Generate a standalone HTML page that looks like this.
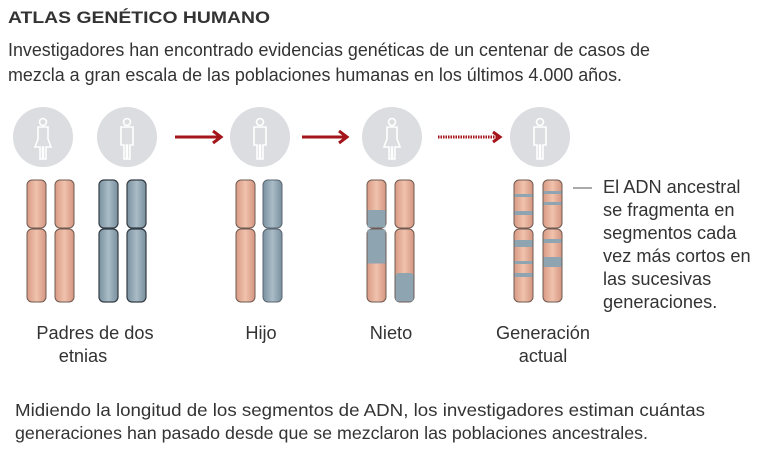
<!DOCTYPE html>
<html><head><meta charset="utf-8"><style>
body{margin:0;width:768px;height:455px;background:#fff;overflow:hidden;font-family:"Liberation Sans",Arial,sans-serif;color:#333}
svg{position:absolute;left:0;top:0}
</style></head><body>
<svg width="768" height="455" xmlns="http://www.w3.org/2000/svg" font-family="Liberation Sans, Arial, sans-serif">
<defs>
<linearGradient id="o" x1="0" x2="1"><stop offset="0" stop-color="#d99a84"/><stop offset=".5" stop-color="#f0c2ac"/><stop offset="1" stop-color="#d49580"/></linearGradient>
<linearGradient id="b" x1="0" x2="1"><stop offset="0" stop-color="#7a919f"/><stop offset=".5" stop-color="#a9bcc7"/><stop offset="1" stop-color="#788f9d"/></linearGradient>
<g id="man" fill="none" stroke="#fff" stroke-width="1.6"><circle cx="0" cy="-15" r="3.5"/><path d="M-6,-10 H6 V8 H3 V22 H0.5 V8 H-0.5 V22 H-3 V8 H-6 Z"/></g>
<g id="woman" fill="none" stroke="#fff" stroke-width="1.6"><circle cx="0" cy="-15" r="3.5"/><path d="M-5,-10 H5 V2 L8,10 H3 V22 H0.5 V10 H-0.5 V22 H-3 V10 H-8 L-5,2 Z"/></g>
</defs>
<text x="8" y="23" font-size="17" font-weight="bold" fill="#333" textLength="262" lengthAdjust="spacingAndGlyphs">ATLAS GENÉTICO HUMANO</text>
<text x="8" y="56" font-size="18" fill="#333" textLength="642" lengthAdjust="spacingAndGlyphs">Investigadores han encontrado evidencias genéticas de un centenar de casos de</text>
<text x="8" y="81" font-size="18" fill="#333" textLength="614" lengthAdjust="spacingAndGlyphs">mezcla a gran escala de las poblaciones humanas en los últimos 4.000 años.</text>
<g fill="#dcdde0">
<circle cx="43" cy="137" r="30"/><circle cx="127" cy="137" r="30"/><circle cx="260" cy="137" r="30"/><circle cx="392" cy="137" r="30"/><circle cx="540" cy="137" r="30"/></g>
<use href="#woman" x="43" y="137"/><use href="#man" x="127" y="137"/><use href="#man" x="260" y="137"/><use href="#woman" x="392" y="137"/><use href="#man" x="540" y="137"/>
<g stroke="#a3151a" stroke-width="3" fill="none">
<line x1="175" y1="137" x2="219" y2="137"/><path d="M213,131 L221,137 L213,143"/>
<line x1="302" y1="137" x2="345" y2="137"/><path d="M339,131 L347,137 L339,143"/>
<line x1="438" y1="137" x2="497" y2="137" stroke-dasharray="1.5,1"/><path d="M493,132 L500,137 L493,142"/>
</g>
<g stroke="#6e5a52" stroke-width="1">
<rect x="27" y="180" width="19" height="48" rx="5" fill="url(#o)"/><rect x="27" y="229" width="19" height="73" rx="5" fill="url(#o)"/>
<rect x="55" y="180" width="19" height="48" rx="5" fill="url(#o)"/><rect x="55" y="229" width="19" height="73" rx="5" fill="url(#o)"/>
<rect x="236" y="180" width="19" height="48" rx="5" fill="url(#o)"/><rect x="236" y="229" width="19" height="73" rx="5" fill="url(#o)"/>
<rect x="367" y="180" width="19" height="48" rx="5" fill="url(#o)"/><rect x="367" y="229" width="19" height="73" rx="5" fill="url(#o)"/>
<rect x="395" y="180" width="19" height="48" rx="5" fill="url(#o)"/><rect x="395" y="229" width="19" height="73" rx="5" fill="url(#o)"/>
<rect x="514" y="180" width="19" height="48" rx="5" fill="url(#o)"/><rect x="514" y="229" width="19" height="73" rx="5" fill="url(#o)"/>
<rect x="543" y="180" width="19" height="48" rx="5" fill="url(#o)"/><rect x="543" y="229" width="19" height="73" rx="5" fill="url(#o)"/>
</g>
<g stroke="#333c44" stroke-width="1.2">
<rect x="99" y="180" width="19" height="48" rx="5" fill="url(#b)"/><rect x="99" y="229" width="19" height="73" rx="5" fill="url(#b)"/>
<rect x="127" y="180" width="19" height="48" rx="5" fill="url(#b)"/><rect x="127" y="229" width="19" height="73" rx="5" fill="url(#b)"/>
</g>
<g stroke="#5a6670" stroke-width="1">
<rect x="263" y="180" width="19" height="48" rx="5" fill="url(#b)"/><rect x="263" y="229" width="19" height="73" rx="5" fill="url(#b)"/>
</g>
<g fill="#8ea4b1">
<rect x="367.5" y="210" width="18" height="17.5"/><rect x="367.5" y="229.5" width="18" height="34"/>
<rect x="395.5" y="273" width="18" height="28.5" rx="3"/>
<rect x="514.5" y="194" width="18" height="3"/><rect x="514.5" y="211" width="18" height="4"/><rect x="514.5" y="240" width="18" height="7"/><rect x="514.5" y="261" width="18" height="3"/><rect x="514.5" y="273" width="18" height="4"/>
<rect x="543.5" y="191" width="18" height="3"/><rect x="543.5" y="202" width="18" height="3"/><rect x="543.5" y="239" width="18" height="4"/><rect x="543.5" y="257" width="18" height="10"/>
</g>
<line x1="573" y1="188" x2="592" y2="188" stroke="#555" stroke-width="1"/>
<g font-size="18.2" fill="#333">
<text x="603" y="193">El ADN ancestral</text>
<text x="603" y="216">se fragmenta en</text>
<text x="603" y="239">segmentos cada</text>
<text x="603" y="262">vez más cortos en</text>
<text x="603" y="285">las sucesivas</text>
<text x="603" y="308">generaciones.</text>
<text x="95" y="339" text-anchor="middle">Padres de dos</text>
<text x="83" y="362" text-anchor="middle">etnias</text>
<text x="261" y="339" text-anchor="middle">Hijo</text>
<text x="391" y="339" text-anchor="middle">Nieto</text>
<text x="543" y="339" text-anchor="middle">Generación</text>
<text x="543" y="362" text-anchor="middle">actual</text>
</g>
<g font-size="17.5" fill="#333">
<text x="15" y="416" textLength="690" lengthAdjust="spacingAndGlyphs">Midiendo la longitud de los segmentos de ADN,  los investigadores estiman cuántas</text>
<text x="15" y="439" textLength="633" lengthAdjust="spacingAndGlyphs">generaciones han pasado desde que se mezclaron las poblaciones ancestrales.</text>
</g>
</svg>
</body></html>
